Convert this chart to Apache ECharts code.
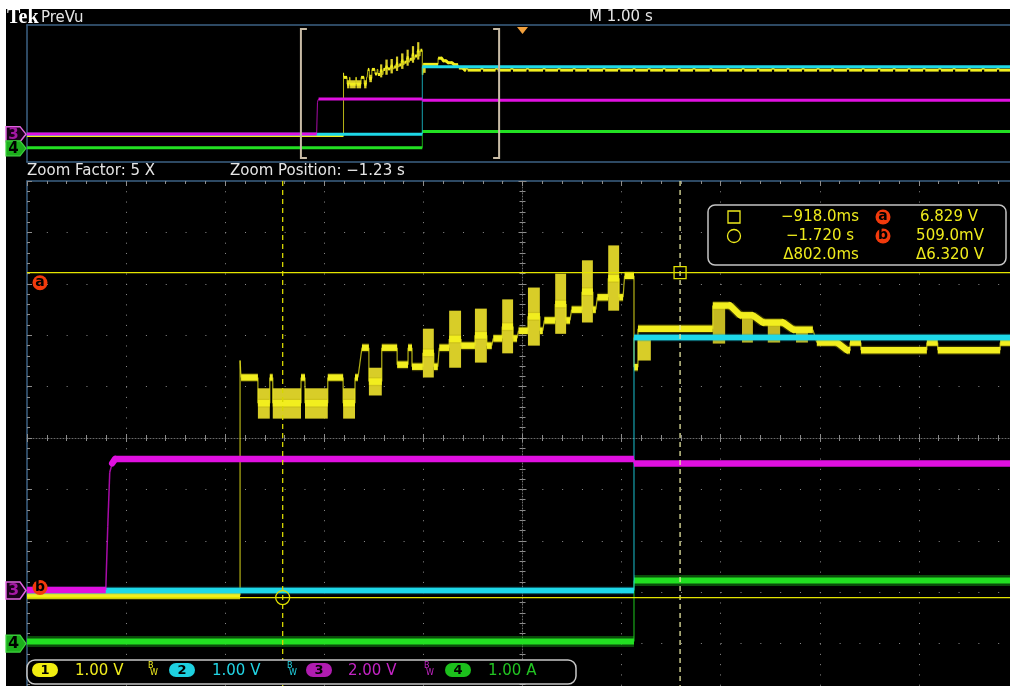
<!DOCTYPE html>
<html>
<head>
<meta charset="utf-8">
<title>Tek PreVu</title>
<script src="https://cdn.jsdelivr.net/npm/echarts@6.0.0/dist/echarts.min.js"></script>
<style>
html,body{margin:0;padding:0;background:#ffffff;overflow:hidden;}
#chart{width:1010px;height:686px;}
</style>
</head>
<body>
<div id="chart"></div>
<script>
// ================= DATA =================
const recordSpan  = [-5, 5];             // s, full record, M 1.00 s/div
const zoomWindow  = [-2.236, -0.236];    // s, zoomed section (Zoom Factor 5 X)
const triggerTime = [0];                 // s

const chLabels = ['1', '2', '3', '4'];
const chScales = ['1.00 V', '1.00 V', '2.00 V', '1.00 A'];
const chPerDiv = [1, 1, 2, 1];           // units per division
const chGround = [-3.613, -2.967, -2.967, -4.0]; // ground level, divisions

// channel 1 (yellow) main trace: [time s, volts]
const ch1 = [
 [-5.000,0.55],[-1.806,0.55],[-1.806,5.12],[-1.804,4.79],
 [-1.770,4.79],[-1.770,4.29],[-1.746,4.29],[-1.746,4.79],
 [-1.740,4.79],[-1.740,4.29],[-1.683,4.29],[-1.683,4.79],
 [-1.675,4.79],[-1.675,4.29],[-1.629,4.29],[-1.629,4.79],
 [-1.598,4.79],[-1.598,4.29],[-1.574,4.29],[-1.574,4.79],
 [-1.568,4.79],[-1.560,5.37],[-1.546,5.37],[-1.546,4.71],
 [-1.520,4.71],[-1.520,5.37],[-1.489,5.37],[-1.489,5.04],
 [-1.467,5.04],[-1.467,5.37],[-1.459,5.37],[-1.459,5.00],
 [-1.437,5.00],[-1.437,5.27],[-1.415,5.27],[-1.415,5.00],
 [-1.407,5.00],[-1.404,5.37],[-1.384,5.37],[-1.384,5.54],
 [-1.360,5.54],[-1.360,5.41],[-1.332,5.41],[-1.332,5.61],
 [-1.308,5.61],[-1.308,5.41],[-1.298,5.41],[-1.295,5.55],
 [-1.277,5.55],[-1.277,5.78],[-1.255,5.78],[-1.255,5.55],
 [-1.247,5.55],[-1.244,5.70],[-1.225,5.70],[-1.225,5.98],
 [-1.201,5.98],[-1.201,5.70],[-1.195,5.70],[-1.192,5.90],
 [-1.170,5.90],[-1.170,6.22],[-1.148,6.22],[-1.148,5.90],
 [-1.140,5.90],[-1.137,6.11],[-1.116,6.11],[-1.116,6.46],
 [-1.094,6.46],[-1.094,6.11],[-1.088,6.11],[-1.085,6.35],
 [-1.063,6.35],[-1.063,6.72],[-1.041,6.72],[-1.041,6.35],
 [-1.033,6.35],[-1.030,6.77],[-1.011,6.77],[-1.011,4.99],
 [-1.003,4.99],[-1.003,5.74],[-0.852,5.74],[-0.852,6.19],
 [-0.817,6.19],[-0.797,6.00],[-0.771,6.00],[-0.751,5.86],
 [-0.710,5.86],[-0.690,5.72],[-0.650,5.72],[-0.642,5.47],
 [-0.601,5.47],[-0.581,5.32]
];
// channel 1 periodic pulses after settling (start times, s)
const ch1Pulses = [-0.575,-0.420,-0.272,-0.118,0.040,0.207,0.358,0.510,0.651,0.812,
  0.964,1.115,1.266,1.418,1.569,1.720,1.890,2.063,2.215,2.366,2.517,2.669,2.820,
  2.972,3.118,3.274,3.426,3.587,3.739,3.890,4.042,4.200,4.344,4.496,4.637,4.788,4.940];
const ch1PulseLevels = [5.32, 5.47];     // V, base / top
const ch1PulseWidth  = 0.022;            // s
// channel 1 noisy bursts: [t0, t1, vLow, vHigh]
const ch1Bursts = [
 [-1.770,-1.746,3.99,4.58],[-1.740,-1.683,3.99,4.58],[-1.675,-1.629,3.99,4.58],
 [-1.598,-1.574,3.99,4.58],[-1.546,-1.520,4.44,4.98],[-1.437,-1.415,4.79,5.74],
 [-1.384,-1.360,4.98,6.09],[-1.332,-1.308,5.08,6.13],[-1.277,-1.255,5.26,6.31],
 [-1.225,-1.201,5.41,6.54],[-1.170,-1.148,5.64,6.81],[-1.116,-1.094,5.86,7.07],
 [-1.063,-1.041,6.09,7.36],[-1.003,-0.977,5.12,5.53]
];
const ch1Glitches = [
 [-0.852,-0.827,5.45,6.19],[-0.793,-0.771,5.47,6.00],
 [-0.741,-0.716,5.47,5.86],[-0.684,-0.660,5.47,5.72]
];
// channel 2 (cyan), channel 3 (magenta), channel 4 (green): [time s, value]
const ch2 = [[-5,0.0],[-1.011,0.0],[-1.011,4.92],[5,4.92]];
const ch3 = [[-5,0.02],[-2.077,0.02],[-2.073,2.5],[-2.069,4.6],[-2.064,4.95],[-2.058,5.12],
             [-1.011,5.12],[-1.011,4.94],[5,4.94]];
const ch4 = [[-5,0.04],[-1.011,0.04],[-1.011,1.23],[5,1.23]];

// cursors: square / circle
const cursorTimes = [-0.918, -1.720];    // s
const cursorVolts = [6.829, 0.509];      // V (ch 1)

// ================= helpers =================
const COL = ['#f2ee1e', '#1ed8e8', '#e010e0', '#22e022'];
const TXT = ['#f0ec1e', '#22d4e4', '#c424c4', '#22c422'];
const GRAT = '#8c8c8c', BORDER = '#3d6284';
const FONT = '"DejaVu Sans", Verdana, sans-serif';

const toDiv = (ch, v) => chGround[ch] + v / chPerDiv[ch];
function segs(points, ch) {
  const out = [];
  for (let i = 1; i < points.length; i++)
    out.push([points[i-1][0], toDiv(ch, points[i-1][1]), points[i][0], toDiv(ch, points[i][1])]);
  return out;
}
const ch1Full = ch1.slice();
ch1Pulses.forEach(p => {
  ch1Full.push([p, ch1PulseLevels[0]], [p, ch1PulseLevels[1]],
               [p + ch1PulseWidth, ch1PulseLevels[1]], [p + ch1PulseWidth, ch1PulseLevels[0]]);
});
ch1Full.push([recordSpan[1], ch1PulseLevels[0]]);

const burstData = arr => arr.map(b => [b[0], b[1], toDiv(0, b[2]), toDiv(0, b[3])]);

function clipSeg(a, b, r) {
  let x1 = a[0], y1 = a[1], x2 = b[0], y2 = b[1];
  const L = r.x, R = r.x + r.width;
  if ((x1 < L && x2 < L) || (x1 > R && x2 > R)) return null;
  if (x2 !== x1) {
    if (x1 < L) { y1 = y1 + (y2 - y1) * (L - x1) / (x2 - x1); x1 = L; }
    if (x2 > R) { y2 = y1 + (y2 - y1) * (R - x1) / (x2 - x1); x2 = R; }
  }
  return [x1, y1, x2, y2];
}
function traceRender(color, halo, wThick, wThin, haloW) {
  return function (params, api) {
    const r = params.coordSys;
    const a = api.coord([api.value(0), api.value(1)]);
    const b = api.coord([api.value(2), api.value(3)]);
    const s = clipSeg(a, b, r);
    if (!s) return null;
    const shape = {x1: s[0], y1: s[1], x2: s[2], y2: s[3]};
    const dx = Math.abs(s[2] - s[0]), dy = Math.abs(s[3] - s[1]);
    if (dx < 1 || dy > 2.5 * dx) return {type: 'line', shape, style: {stroke: color, lineWidth: wThin, opacity: 0.75}};
    const ch = [];
    if (halo) ch.push({type: 'line', shape, style: {stroke: halo, lineWidth: haloW, lineCap: 'butt'}});
    ch.push({type: 'line', shape, style: {stroke: color, lineWidth: wThick, lineCap: dy < 0.5 ? 'butt' : 'round'}});
    return {type: 'group', children: ch};
  };
}
function burstRender(fill) {
  return function (params, api) {
    const r = params.coordSys;
    const a = api.coord([api.value(0), api.value(3)]);
    const b = api.coord([api.value(1), api.value(2)]);
    const x0 = Math.max(a[0], r.x), x1 = Math.min(b[0], r.x + r.width);
    if (x1 <= x0) return null;
    return {type: 'rect', shape: {x: x0, y: a[1], width: Math.max(x1 - x0, 1), height: b[1] - a[1]}, style: {fill}};
  };
}
function traceSeries(name, data, renderItem, xi, yi, z) {
  return {type: 'custom', name, coordinateSystem: 'cartesian2d', xAxisIndex: xi, yAxisIndex: yi,
          data, renderItem, silent: true, animation: false, z};
}

// ================= chart =================
const chart = echarts.init(document.getElementById('chart'), null, {renderer: 'canvas'});

const hiddenAxis = (grid, min, max, pos) => ({gridIndex: grid, type: 'value', min, max, position: pos,
  axisLine: {show: false, onZero: false}, axisTick: {show: false}, axisLabel: {show: false},
  splitLine: {show: false}, minorTick: {show: false}});

const option = {
  backgroundColor: '#ffffff',
  animation: false,
  grid: [
    {left: 27, top: 181, width: 991, height: 514, outerBoundsMode: 'none', containLabel: false, show: false},
    {left: 27, top: 25, width: 991, height: 137, outerBoundsMode: 'none', containLabel: false, show: false}
  ],
  xAxis: [
    hiddenAxis(0, zoomWindow[0], zoomWindow[1], 'bottom'),                              // 0 time (zoom)
    {gridIndex: 0, type: 'value', min: 0, max: 10, interval: 1, position: 'top',        // 1 graticule
     axisLine: {show: true, onZero: false, lineStyle: {color: BORDER, width: 1.5}},
     axisTick: {show: true, inside: true, length: 5, lineStyle: {color: GRAT}},
     minorTick: {show: true, splitNumber: 5, length: 3, lineStyle: {color: GRAT}},
     axisLabel: {show: false},
     splitLine: {show: true, lineStyle: {color: GRAT, width: 1, type: [1, 9.28]}}},
    {gridIndex: 0, type: 'value', min: 0, max: 10, interval: 1, position: 'top', offset: -257,   // 2 centre line up
     axisLine: {show: true, onZero: false, lineStyle: {color: '#6a6a6a', width: 1, type: [1, 2]}},
     axisTick: {show: true, length: 4, lineStyle: {color: GRAT}},
     minorTick: {show: true, splitNumber: 5, length: 3, lineStyle: {color: GRAT}},
     axisLabel: {show: false}, splitLine: {show: false}},
    {gridIndex: 0, type: 'value', min: 0, max: 10, interval: 1, position: 'bottom', offset: -257, // 3 centre line down
     axisLine: {show: false, onZero: false},
     axisTick: {show: true, length: 4, lineStyle: {color: GRAT}},
     minorTick: {show: true, splitNumber: 5, length: 3, lineStyle: {color: GRAT}},
     axisLabel: {show: false}, splitLine: {show: false}},
    {gridIndex: 1, type: 'value', min: recordSpan[0], max: recordSpan[1], position: 'top',       // 4 time (record)
     axisLine: {show: true, onZero: false, lineStyle: {color: BORDER, width: 1.5}},
     axisTick: {show: false}, axisLabel: {show: false}, splitLine: {show: false}},
    {gridIndex: 1, type: 'value', min: recordSpan[0], max: recordSpan[1], position: 'bottom',    // 5 bottom border
     axisLine: {show: true, onZero: false, lineStyle: {color: BORDER, width: 1.5}},
     axisTick: {show: false}, axisLabel: {show: false}, splitLine: {show: false}}
  ],
  yAxis: [
    {gridIndex: 0, type: 'value', min: -5, max: 5, interval: 1, position: 'left',            // 0 divisions
     axisLine: {show: true, onZero: false, lineStyle: {color: BORDER, width: 1.5}},
     axisTick: {show: true, inside: true, length: 5, lineStyle: {color: GRAT}},
     minorTick: {show: true, splitNumber: 5, length: 3, lineStyle: {color: GRAT}},
     axisLabel: {show: false},
     splitLine: {show: true, lineStyle: {color: GRAT, width: 1, type: [1, 18.82]}}},
    {gridIndex: 0, type: 'value', min: -5, max: 5, interval: 1, position: 'left', offset: -495.5, // 1 centre
     axisLine: {show: true, onZero: false, lineStyle: {color: '#6a6a6a', width: 1, type: [1, 2]}},
     axisTick: {show: true, length: 4, lineStyle: {color: GRAT}},
     minorTick: {show: true, splitNumber: 5, length: 3, lineStyle: {color: GRAT}},
     axisLabel: {show: false}, splitLine: {show: false}},
    {gridIndex: 0, type: 'value', min: -5, max: 5, interval: 1, position: 'right', offset: -495.5, // 2 centre
     axisLine: {show: false, onZero: false},
     axisTick: {show: true, length: 4, lineStyle: {color: GRAT}},
     minorTick: {show: true, splitNumber: 5, length: 3, lineStyle: {color: GRAT}},
     axisLabel: {show: false}, splitLine: {show: false}},
    {gridIndex: 1, type: 'value', min: -5, max: 5, position: 'left',                          // 3 record divs
     axisLine: {show: true, onZero: false, lineStyle: {color: BORDER, width: 1.5}},
     axisTick: {show: false}, axisLabel: {show: false}, splitLine: {show: false}}
  ],
  series: []
};

const S = option.series;
// ---- zoom window (main grid) ----
S.push(traceSeries('ch4', segs(ch4, 3), traceRender(COL[3], 'rgba(20,150,20,0.5)', 6, 1.2, 11), 0, 0, 3));
S.push(traceSeries('ch1 bursts', burstData(ch1Bursts), burstRender('#d8cd28'), 0, 0, 4));
S.push(traceSeries('ch1 glitches', burstData(ch1Glitches), burstRender('#c4b922'), 0, 0, 4));
S.push(traceSeries('ch1', segs(ch1Full, 0), traceRender(COL[0], 'rgba(180,170,0,0.3)', 6.5, 1.2, 9), 0, 0, 5));
S.push(traceSeries('ch2', segs(ch2, 1), traceRender(COL[1], 'rgba(20,160,180,0.4)', 5.5, 1.2, 7.5), 0, 0, 6));
S.push(traceSeries('ch3', segs(ch3, 2), traceRender(COL[2], null, 6.5, 1.5, 0), 0, 0, 7));
// ---- record overview grid ----
S.push(traceSeries('ch4 rec', segs(ch4, 3), traceRender(COL[3], null, 3, 1, 0), 4, 3, 3));
S.push(traceSeries('ch1 bursts rec', burstData(ch1Bursts), burstRender('#d8cd28'), 4, 3, 4));
S.push(traceSeries('ch1 rec', segs(ch1Full, 0), traceRender(COL[0], null, 3, 1, 0), 4, 3, 5));
S.push(traceSeries('ch2 rec', segs(ch2, 1), traceRender(COL[1], null, 3, 1, 0), 4, 3, 6));
S.push(traceSeries('ch3 rec', segs(ch3, 2), traceRender(COL[2], null, 3, 1, 0), 4, 3, 7));
// zoom bracket in overview
S.push(traceSeries('zoom box', [[zoomWindow[0], zoomWindow[1]]], function (params, api) {
  const r = params.coordSys;
  const x0 = api.coord([api.value(0), 0])[0], x1 = api.coord([api.value(1), 0])[0];
  const t = r.y + 4, b = r.y + r.height - 4, st = {stroke: '#c9bca6', lineWidth: 2, fill: null};
  return {type: 'group', children: [
    {type: 'polyline', shape: {points: [[x0 + 6, t], [x0, t], [x0, b], [x0 + 6, b]]}, style: st},
    {type: 'polyline', shape: {points: [[x1 - 6, t], [x1, t], [x1, b], [x1 - 6, b]]}, style: st}
  ]};
}, 4, 3, 9));
// trigger marker
S.push(traceSeries('trigger', triggerTime.map(t => [t, 0]), function (params, api) {
  const r = params.coordSys, x = api.coord([api.value(0), 0])[0];
  return {type: 'polygon', shape: {points: [[x - 5.5, r.y + 2], [x + 5.5, r.y + 2], [x, r.y + 9]]}, style: {fill: '#f2a03c'}};
}, 4, 3, 9));
// cursors (zoom grid)
S.push(traceSeries('cursor t', cursorTimes.map(t => [t, 0]), function (params, api) {
  const r = params.coordSys, x = api.coord([api.value(0), 0])[0];
  const c = params.dataIndex === 0 ? '#e6e6a0' : '#d8d800';
  return {type: 'line', shape: {x1: x, y1: r.y, x2: x, y2: r.y + r.height}, style: {stroke: c, lineWidth: 1.3, lineDash: [5, 4]}};
}, 0, 0, 8));
S.push(traceSeries('cursor v', cursorVolts.map(v => [zoomWindow[0], toDiv(0, v)]), function (params, api) {
  const r = params.coordSys, y = api.coord([api.value(0), api.value(1)])[1];
  return {type: 'line', shape: {x1: r.x, y1: y, x2: r.x + r.width, y2: y}, style: {stroke: '#e4e400', lineWidth: 1.2}};
}, 0, 0, 8));
S.push(traceSeries('cursor marks', cursorTimes.map((t, i) => [t, toDiv(0, cursorVolts[i])]), function (params, api) {
  const p = api.coord([api.value(0), api.value(1)]);
  const st = {stroke: '#e0e000', lineWidth: 1.3, fill: null};
  if (params.dataIndex === 0) return {type: 'rect', shape: {x: p[0] - 6, y: p[1] - 6, width: 12, height: 12}, style: st};
  return {type: 'circle', shape: {cx: p[0], cy: p[1], r: 7}, style: st};
}, 0, 0, 9));

chart.setOption(option);

// ================= screen furniture (graphic) =================
function txt(text, x, y, fill, font, align, z) {
  return {type: 'text', z: z || 50, silent: true,
    style: {text, x, y, fill, font, align: align || 'left', textAlign: align || 'left',
            verticalAlign: 'middle', textVerticalAlign: 'middle'}};
}
const G = [];
G.push({type: 'rect', z: -100, silent: true, shape: {x: 6, y: 9, width: 1010, height: 690}, style: {fill: '#000000'}});
G.push(txt('Tek', 7, 18, '#ffffff', 'bold 20px "Liberation Serif", serif'));
G.push(txt('PreVu', 41, 18, '#e6e6e6', '15px ' + FONT));
G.push(txt('M 1.00 s', 589, 17.5, '#e6e6e6', '15px ' + FONT));
G.push(txt('Zoom Factor: 5 X', 27, 171, '#e6e6e6', '15px ' + FONT));
G.push(txt('Zoom Position: \u22121.23 s', 230, 171, '#e6e6e6', '15px ' + FONT));

// channel ground markers
function chMarker(ch, y, h, z) {
  const filled = ch === 3;
  const pts = [[6, y - h], [20, y - h], [26, y], [20, y + h], [6, y + h]];
  return [
    {type: 'polygon', z, silent: true, shape: {points: pts},
     style: filled ? {fill: '#1cae1c', stroke: '#3ed43e', lineWidth: 1.2} : {fill: '#180018', stroke: '#e064e0', lineWidth: 1.5}},
    txt(chLabels[ch], 13.5, y + 0.5, filled ? '#000000' : '#a418a4', 'bold ' + (h > 8 ? 16 : 15) + 'px ' + FONT, 'center', z + 1)
  ];
}
[2, 3].forEach(ch => {
  const yMain = chart.convertToPixel({yAxisIndex: 0}, chGround[ch]);
  const yRec = chart.convertToPixel({yAxisIndex: 3}, chGround[ch]);
  G.push(...chMarker(ch, yMain, 8.5, 60));
  G.push(...chMarker(ch, yRec, 7.5, 60));
});

// cursor badges on the graticule
function badge(letter, cx, cy, z) {
  return [
    {type: 'circle', z, silent: true, shape: {cx, cy, r: 7.5}, style: {fill: '#f23a0c'}},
    txt(letter, cx, cy - 0.5, '#000000', 'bold 14px ' + FONT, 'center', z + 1)
  ];
}
const yA = chart.convertToPixel({yAxisIndex: 0}, toDiv(0, cursorVolts[0]));
const yB = chart.convertToPixel({yAxisIndex: 0}, toDiv(0, cursorVolts[1]));
G.push(...badge('a', 40, yA + 10, 60));
G.push(...badge('b', 40, yB - 10, 60));

// cursor readout
const fmtT = t => { const s = t < 0 ? '\u2212' : ''; const a = Math.abs(t);
  return a < 1 ? s + (a * 1000).toFixed(1) + 'ms' : s + a.toFixed(3) + ' s'; };
const fmtV = v => { const a = Math.abs(v); return a < 1 ? (a * 1000).toFixed(1) + 'mV' : a.toFixed(3) + ' V'; };
const YEL = '#efeb1c';
G.push({type: 'rect', z: 100, silent: true, shape: {x: 708, y: 205, width: 298, height: 60, r: 7},
        style: {fill: '#000000', stroke: '#c4c4c4', lineWidth: 1.5}});
G.push({type: 'rect', z: 101, silent: true, shape: {x: 728, y: 211, width: 12, height: 12}, style: {fill: null, stroke: YEL, lineWidth: 1.3}});
G.push({type: 'circle', z: 101, silent: true, shape: {cx: 734, cy: 236, r: 6.5}, style: {fill: null, stroke: YEL, lineWidth: 1.3}});
G.push(txt(fmtT(cursorTimes[0]), 820, 217, YEL, '15px ' + FONT, 'center', 101));
G.push(txt(fmtT(cursorTimes[1]), 820, 236, YEL, '15px ' + FONT, 'center', 101));
G.push(txt('\u0394' + fmtT(cursorTimes[0] - cursorTimes[1]), 821, 255, YEL, '15px ' + FONT, 'center', 101));
G.push(...badge('a', 883, 217, 101));
G.push(...badge('b', 883, 236, 101));
G.push(txt(fmtV(cursorVolts[0]), 949, 217, YEL, '15px ' + FONT, 'center', 101));
G.push(txt(fmtV(cursorVolts[1]), 950, 236, YEL, '15px ' + FONT, 'center', 101));
G.push(txt('\u0394' + fmtV(cursorVolts[0] - cursorVolts[1]), 950, 255, YEL, '15px ' + FONT, 'center', 101));

// channel legend
G.push({type: 'rect', z: 100, silent: true, shape: {x: 27, y: 660, width: 549, height: 24, r: 8},
        style: {fill: '#000000', stroke: '#c8c8c8', lineWidth: 1.5}});
const pillX = [45, 182, 319, 458], scaleX = [75, 212, 348, 488], bwX = [148, 287, 424];
const pillCol = ['#f2ee10', '#1ed0e0', '#b01cb0', '#1cc01c'];
chLabels.forEach((lab, i) => {
  G.push({type: 'rect', z: 101, silent: true, shape: {x: pillX[i] - 13, y: 663, width: 26, height: 14, r: 7}, style: {fill: pillCol[i]}});
  G.push(txt(lab, pillX[i], 670.5, '#000000', 'bold 13px ' + FONT, 'center', 102));
  G.push(txt(chScales[i], scaleX[i], 671, TXT[i], '15px ' + FONT, 'left', 101));
  if (i < bwX.length) {
    G.push(txt('B', bwX[i], 666, TXT[i], '8px ' + FONT, 'left', 101));
    G.push(txt('W', bwX[i] + 2, 673, TXT[i], '8px ' + FONT, 'left', 101));
  }
});

chart.setOption({graphic: {elements: G}});
</script>
</body>
</html>
